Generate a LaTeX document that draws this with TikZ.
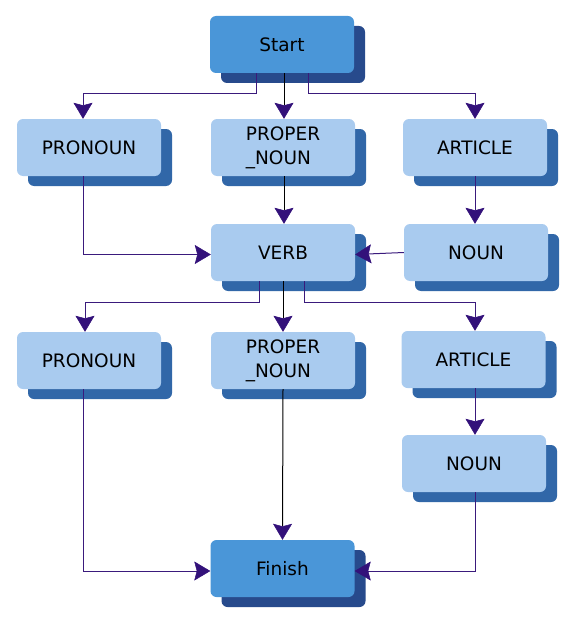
\documentclass[tikz,border=0pt]{standalone}
\usepackage{fontspec}
\setmainfont{DejaVu Sans}
\usetikzlibrary{shadows,arrows.meta,calc}
\definecolor{darkfill}{HTML}{4A96D8}
\definecolor{darkshadow}{HTML}{274A8C}
\definecolor{lightfill}{HTML}{A9CBEF}
\definecolor{lightshadow}{HTML}{3167A8}
\definecolor{linecol}{HTML}{3A1A7C}
\definecolor{tipcol}{HTML}{33117A}
\tikzset{
  boxbase/.style={rectangle, rounded corners=6pt, minimum width=144pt, minimum height=57pt,
    inner sep=0pt, align=left, font=\fontsize{18.5}{24}\selectfont, text=black},
  termbox/.style={boxbase, fill=darkfill,
    general shadow={shadow xshift=11pt, shadow yshift=-10pt, fill=darkshadow}},
  wordbox/.style={boxbase, fill=lightfill,
    general shadow={shadow xshift=11pt, shadow yshift=-10pt, fill=lightshadow}},
  conn/.style={draw=linecol, line width=1pt, -{Stealth[length=16pt,width=19pt,inset=2.5pt,color=tipcol,fill=tipcol,line width=0.5pt]}},
  straightconn/.style={conn, draw=black}
}
\begin{document}
\begin{tikzpicture}[x=1pt,y=-1pt]
\useasboundingbox (0,0) rectangle (574,623);
\node[termbox] (start) at (282,44.5) {Start};
\node[wordbox] (pron1) at (89,147.5) {PRONOUN};
\node[wordbox] (prop1) at (283,147.5) {PROPER\\\_NOUN};
\node[wordbox] (art1) at (475,147.5) {ARTICLE};
\node[wordbox] (verb) at (283,252.5) {VERB};
\node[wordbox] (noun1) at (476,252.5) {NOUN};
\node[wordbox] (pron2) at (89,360.5) {PRONOUN};
\node[wordbox] (prop2) at (283,360.5) {PROPER\\\_NOUN};
\node[wordbox] (art2) at (473.5,359.5) {ARTICLE};
\node[wordbox] (noun2) at (474,463.5) {NOUN};
\node[termbox] (finish) at (282.5,568.5) {Finish};

\draw[conn] ([xshift=-26pt]start.south) -- ++(0,20) -| ([xshift=-6pt]pron1.north);
\draw[straightconn] ([xshift=2pt]start.south) -- ([xshift=1pt]prop1.north);
\draw[conn] ([xshift=26pt]start.south) -- ++(0,20) -| (art1.north);
\draw[conn] ([xshift=-6pt]pron1.south) |- ([yshift=-2pt]verb.west);
\draw[straightconn] ([xshift=1pt]prop1.south) -- ([xshift=1pt]verb.north);
\draw[conn] (art1.south) -- ([xshift=-1pt]noun1.north);
\draw[conn] (noun1.west) -- ([yshift=-2pt]verb.east);
\draw[conn] ([xshift=-24pt]verb.south) -- ++(0,21) -| ([xshift=-4pt]pron2.north);
\draw[straightconn] (verb.south) -- (prop2.north);
\draw[conn] ([xshift=21pt]verb.south) -- ++(0,21) -| ([xshift=1.5pt]art2.north);
\draw[conn] ([xshift=1.5pt]art2.south) -- ([xshift=1pt]noun2.north);
\draw[conn] ([xshift=-6pt]pron2.south) |- ([yshift=-2.5pt]finish.west);
\draw[straightconn] (prop2.south) -- (finish.north);
\draw[conn] ([xshift=1pt]noun2.south) |- ([yshift=-2.5pt]finish.east);
\end{tikzpicture}
\end{document}
